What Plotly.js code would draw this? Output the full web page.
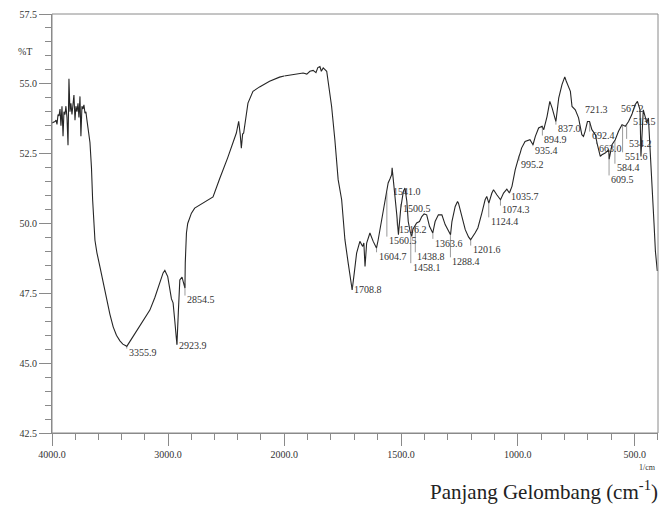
<!DOCTYPE html>
<html>
<head>
<meta charset="utf-8">
<script src="https://cdn.plot.ly/plotly-3.0.1.min.js"></script>
<style>html,body{margin:0;padding:0;background:#fff;}#chart{width:667px;height:512px;}</style>
</head>
<body>
<div id="chart"></div>
<script>
// Spectrum: wavenumber (cm-1) and transmittance (%T)
const wavenumber = [4000,3985,3974,3965,3957,3948,3940,3931,3923,3914,3905,3897,3888,3880,3871,3862,3854,3845,3837,3828,3819,3811,3802,3794,3785,3776,3768,3759,3751,3742,3733,3725,3716,3708,3699,3690,3682,3673,3660,3650,3630,3613,3587,3561,3530,3501,3473,3445,3415,3390,3364,3356,3301,3243,3200,3157,3114,3071,3043,3028,3003,2971,2957,2942,2924,2912,2899,2880,2855,2852,2842,2831,2799,2771,2699,2659,2613,2556,2487,2412,2392,2379,2369,2358,2349,2312,2269,2212,2126,2040,2000,1961,1919,1903,1890,1876,1864,1856,1847,1841,1833,1818,1808,1797,1783,1769,1754,1740,1726,1716,1709,1700,1690,1676,1664,1659,1654,1647,1633,1619,1605,1598,1583,1569,1562,1555,1547,1540,1538,1533,1526,1518,1511,1501,1490,1483,1475,1469,1461,1454,1449,1440,1433,1421,1411,1401,1390,1378,1364,1354,1340,1325,1311,1288,1282,1268,1258,1254,1239,1225,1211,1202,1183,1171,1154,1140,1133,1124,1111,1104,1090,1074,1061,1047,1036,1025,1011,1001,995,990,984,969,948,935,925,911,896,889,875,863,853,837,825,811,799,793,783,775,768,754,740,726,719,712,702,693,683,668,661,654,647,640,626,611,609,597,583,569,554,540,526,512,498,488,477,473,463,455,448,441,434,427,423,417,411,403];
const transmittance = [53.6,53.62,53.65,53.7,53.55,53.9,53.85,54.1,53.5,54.2,53.12,54.0,53.9,54.2,53.8,52.8,55.18,54.0,54.3,53.9,54.2,54.6,53.7,54.2,54.0,54.3,53.8,54.55,53.12,54.2,54.1,54.25,53.95,54.0,53.7,53.4,53.1,52.9,52.0,50.85,49.4,48.95,48.45,47.9,47.3,46.75,46.3,46.0,45.8,45.68,45.62,45.6,45.96,46.35,46.6,46.9,47.35,47.85,48.23,48.32,48.1,47.3,47.16,46.5,45.66,46.8,47.98,48.08,47.69,48.6,49.66,50.0,50.37,50.55,50.73,50.82,50.95,51.6,52.35,53.24,53.66,53.2,52.7,53.2,53.24,54.31,54.73,54.89,55.09,55.24,55.28,55.33,55.39,55.35,55.45,55.48,55.4,55.58,55.62,55.45,55.57,55.45,54.9,54.19,52.99,51.57,50.85,49.42,48.58,47.99,47.62,48.23,48.94,49.36,49.18,49.3,48.46,49.3,49.66,49.36,49.12,49.4,50.07,50.79,51.03,51.45,51.6,51.75,51.99,51.57,51.15,50.31,49.6,50.55,51.15,51.27,50.79,50.07,49.72,49.54,49.8,49.9,50.02,50.07,50.25,50.34,50.31,49.9,49.66,50.07,50.31,50.31,49.96,49.6,50.07,50.61,50.79,50.73,50.25,49.78,49.52,49.42,49.66,49.84,50.37,50.85,50.97,50.73,51.09,51.21,51.03,50.85,51.09,51.23,51.09,51.33,51.93,52.28,52.4,52.52,52.7,52.94,53.0,52.82,53.12,53.42,53.48,53.36,53.83,54.37,54.13,53.65,54.49,54.97,55.25,55.1,54.9,54.73,54.19,54.07,53.78,53.18,53.12,53.3,53.65,53.65,53.36,53.18,52.88,52.58,52.4,52.46,52.52,52.64,52.3,52.82,53.0,53.3,53.54,53.48,53.65,53.9,54.25,54.37,54.07,52.4,54.07,53.83,53.6,53.78,52.52,51.57,50.85,50.0,49.0,48.3];

// Peak labels (wavenumber text) and the %T level at which each label sits
const peakLabels = ['3355.9','2923.9','2854.5','1708.8','1604.7','1560.5','1541.0','1500.5','1516.2','1438.8','1458.1','1363.6','1288.4','1201.6','1124.4','1074.3','1035.7','995.2','935.4','894.9','837.0','721.3','692.4','663.0','609.5','584.4','551.6','534.2','567.2','513.5'];
const peakLabelLevel = [45.37,45.63,47.27,47.63,48.82,49.38,51.13,50.55,49.78,48.82,48.43,49.30,48.64,49.06,50.07,50.49,50.97,52.10,52.62,53.0,53.39,54.07,53.14,52.70,51.57,51.99,52.40,52.88,54.13,53.65];
const peakMarkerBelow = [1,1,1,1,1,1,0,1,1,1,1,1,1,1,1,1,1,1,1,1,1,0,1,1,1,1,1,1,0,0];

const xTicksLeft = [4000,3000,2000];
const xTicksRight = [1500,1000,500];
const yTicks = [42.5,45.0,47.5,50.0,52.5,55.0,57.5];

const BREAK = 2000;
const serif = 'Liberation Serif, Times New Roman, serif';
const lineCol = '#262626';
const frameCol = '#8a8a8a';

function interpT(v){
  for (let i=0;i<wavenumber.length-1;i++){
    const a=wavenumber[i], b=wavenumber[i+1];
    if ((v<=a && v>=b)){
      const t=(a-v)/(a-b);
      return transmittance[i]+t*(transmittance[i+1]-transmittance[i]);
    }
  }
  return transmittance[transmittance.length-1];
}

const lx=[],ly=[],rx=[],ry=[];
wavenumber.forEach((v,i)=>{
  if (v>=BREAK){lx.push(v);ly.push(transmittance[i]);}
  if (v<=BREAK){rx.push(v);ry.push(transmittance[i]);}
});

const mlx=[],mly=[],mrx=[],mry=[];
const annotations=[];
peakLabels.forEach((txt,i)=>{
  const v=parseFloat(txt);
  const left = v>BREAK;
  if (peakMarkerBelow[i]){
    const arrX = left?mlx:mrx, arrY = left?mly:mry;
    arrX.push(v,v,null); arrY.push(interpT(v), peakLabelLevel[i]+0.15, null);
  }
  annotations.push({
    x:v, y:peakLabelLevel[i], xref:left?'x':'x2', yref:'y',
    text:txt, showarrow:false, xanchor:'left', yanchor:'middle', xshift:0,
    font:{family:serif,size:10,color:'#333'}
  });
});

annotations.push({xref:'paper',yref:'y',x:0,y:56.15,text:'%T',showarrow:false,xanchor:'right',xshift:-18,font:{family:serif,size:10,color:'#333'}});
annotations.push({xref:'paper',yref:'paper',x:1,y:-0.083,text:'1/cm',showarrow:false,xanchor:'right',yanchor:'middle',font:{family:serif,size:8,color:'#333'}});
annotations.push({xref:'paper',yref:'paper',x:1.004,y:-0.137,text:'Panjang Gelombang (cm<sup>-1</sup>)',showarrow:false,xanchor:'right',yanchor:'middle',font:{family:serif,size:21,color:'#222'}});

const traces=[
  {x:lx,y:ly,xaxis:'x',yaxis:'y',mode:'lines',line:{color:lineCol,width:1.1},hoverinfo:'skip'},
  {x:rx,y:ry,xaxis:'x2',yaxis:'y',mode:'lines',line:{color:lineCol,width:1.1},hoverinfo:'skip'},
  {x:mlx,y:mly,xaxis:'x',yaxis:'y',mode:'lines',line:{color:'#555',width:0.6},hoverinfo:'skip'},
  {x:mrx,y:mry,xaxis:'x2',yaxis:'y',mode:'lines',line:{color:'#555',width:0.6},hoverinfo:'skip'}
];

const d1 = (284.3-52)/606.3;
const axCommon = {showgrid:false,zeroline:false,showline:true,linecolor:frameCol,linewidth:1,
  ticks:'outside',ticklen:12,tickcolor:frameCol,tickwidth:1,
  tickfont:{family:serif,size:10,color:'#333'}};

const layout={
  width:667,height:512,
  margin:{l:52,r:9,t:14,b:79},
  paper_bgcolor:'#fff',plot_bgcolor:'#fff',
  showlegend:false,
  xaxis:Object.assign({},axCommon,{domain:[0,d1],range:[4000,BREAK],anchor:'y',
    tickmode:'array',tickvals:xTicksLeft,ticktext:xTicksLeft.map(v=>v.toFixed(1)),
    minor:{tickmode:'linear',tick0:4000,dtick:200,ticks:'outside',ticklen:6,tickcolor:frameCol}}),
  xaxis2:Object.assign({},axCommon,{domain:[d1,1],range:[BREAK,400],anchor:'y',
    tickmode:'array',tickvals:xTicksRight,ticktext:xTicksRight.map(v=>v.toFixed(1)),
    minor:{tickmode:'linear',tick0:2000,dtick:100,ticks:'outside',ticklen:6,tickcolor:frameCol}}),
  yaxis:Object.assign({},axCommon,{range:[42.5,57.5],anchor:'x',
    tickmode:'array',tickvals:yTicks,ticktext:yTicks.map(v=>v.toFixed(1)),
    minor:{tickmode:'linear',tick0:42.5,dtick:0.5,ticks:'outside',ticklen:6,tickcolor:frameCol}}),
  shapes:[{type:'rect',xref:'paper',yref:'paper',x0:0,x1:1,y0:0,y1:1,line:{color:frameCol,width:1},layer:'above'}],
  annotations:annotations
};

Plotly.newPlot('chart',traces,layout,{staticPlot:true,displayModeBar:false});
</script>
</body>
</html>
